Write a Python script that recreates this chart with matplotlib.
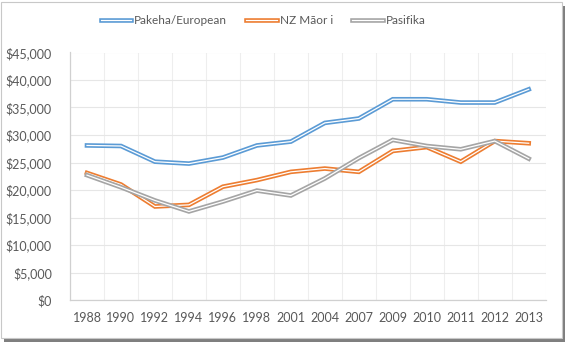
import matplotlib
matplotlib.use("Agg")
import matplotlib.pyplot as plt
import matplotlib.patheffects as pe
from matplotlib.patches import Rectangle
from matplotlib.ticker import FuncFormatter

years = ["1988", "1990", "1992", "1994", "1996", "1998", "2001",
         "2004", "2007", "2009", "2010", "2011", "2012", "2013"]
pakeha = [28100, 28000, 25150, 24800, 25900, 28100, 28800,
          32200, 33000, 36500, 36500, 35900, 35900, 38300]
maori = [23100, 21000, 17000, 17300, 20600, 21800, 23300,
         23900, 23300, 27100, 27800, 25150, 28900, 28500]
pasifika = [22700, 20500, 18100, 16100, 17900, 19900, 19000,
            22100, 25800, 29100, 28000, 27400, 28900, 25700]

series = [("Pakeha/European", pakeha, "#5B9BD5"),
          ("NZ M\u0101or i", maori, "#ED7D31"),
          ("Pasifika", pasifika, "#A5A5A5")]

plt.rcParams['font.family'] = ['Lato', 'DejaVu Sans']

W, H = 568, 342
fig = plt.figure(figsize=(W / 100, H / 100), dpi=100)
fig.patch.set_facecolor("white")

# frame with drop shadow
fig.patches.append(Rectangle((4 / W, 0), 561 / W, 336 / H, transform=fig.transFigure,
                             facecolor="#7F7F7F", edgecolor="none", zorder=-3))
fig.patches.append(Rectangle((1 / W, 4 / H), 561 / W, 336 / H, transform=fig.transFigure,
                             facecolor="white", edgecolor="#C8C8C8", lw=0.8, zorder=-2))

ax = fig.add_axes([70 / W, 1 - 300 / H, 475.7 / W, 247.5 / H])
ax.set_facecolor("none")

x = list(range(len(years)))
for name, vals, col in series:
    ax.plot(x, vals, color="white", lw=0.9, label=name, solid_joinstyle="miter",
            path_effects=[pe.Stroke(linewidth=3.3, foreground=col), pe.Normal()], zorder=3)

ax.set_xlim(-0.5, len(years) - 0.5)
ax.set_ylim(0, 45000)
ax.set_yticks(range(0, 45001, 5000))
ax.yaxis.set_major_formatter(FuncFormatter(lambda v, p: "${:,.0f}".format(v)))
ax.set_xticks(x)
ax.set_xticklabels(years)
ax.set_xticks([i - 0.5 for i in range(len(years) + 1)], minor=True)

ax.grid(axis="y", which="major", color="#E6E6E6", lw=0.8)
ax.grid(axis="x", which="minor", color="#EEEEEE", lw=0.8)
ax.tick_params(which="both", length=0, colors="#595959", labelsize=9)
ax.tick_params(axis="y", pad=13)
ax.tick_params(axis="x", pad=9)

for s in ["top", "right"]:
    ax.spines[s].set_visible(False)
for s in ["left", "bottom"]:
    ax.spines[s].set_color("#D0D0D0")
    ax.spines[s].set_linewidth(0.9)

leg = fig.legend(loc="center", bbox_to_anchor=(263 / W, 1 - 21 / H), ncol=3, frameon=False,
                 fontsize=8.5, handlelength=2.6, columnspacing=1.6, handletextpad=0.25,
                 labelcolor="#595959")

fig.savefig("out.png", dpi=100)
